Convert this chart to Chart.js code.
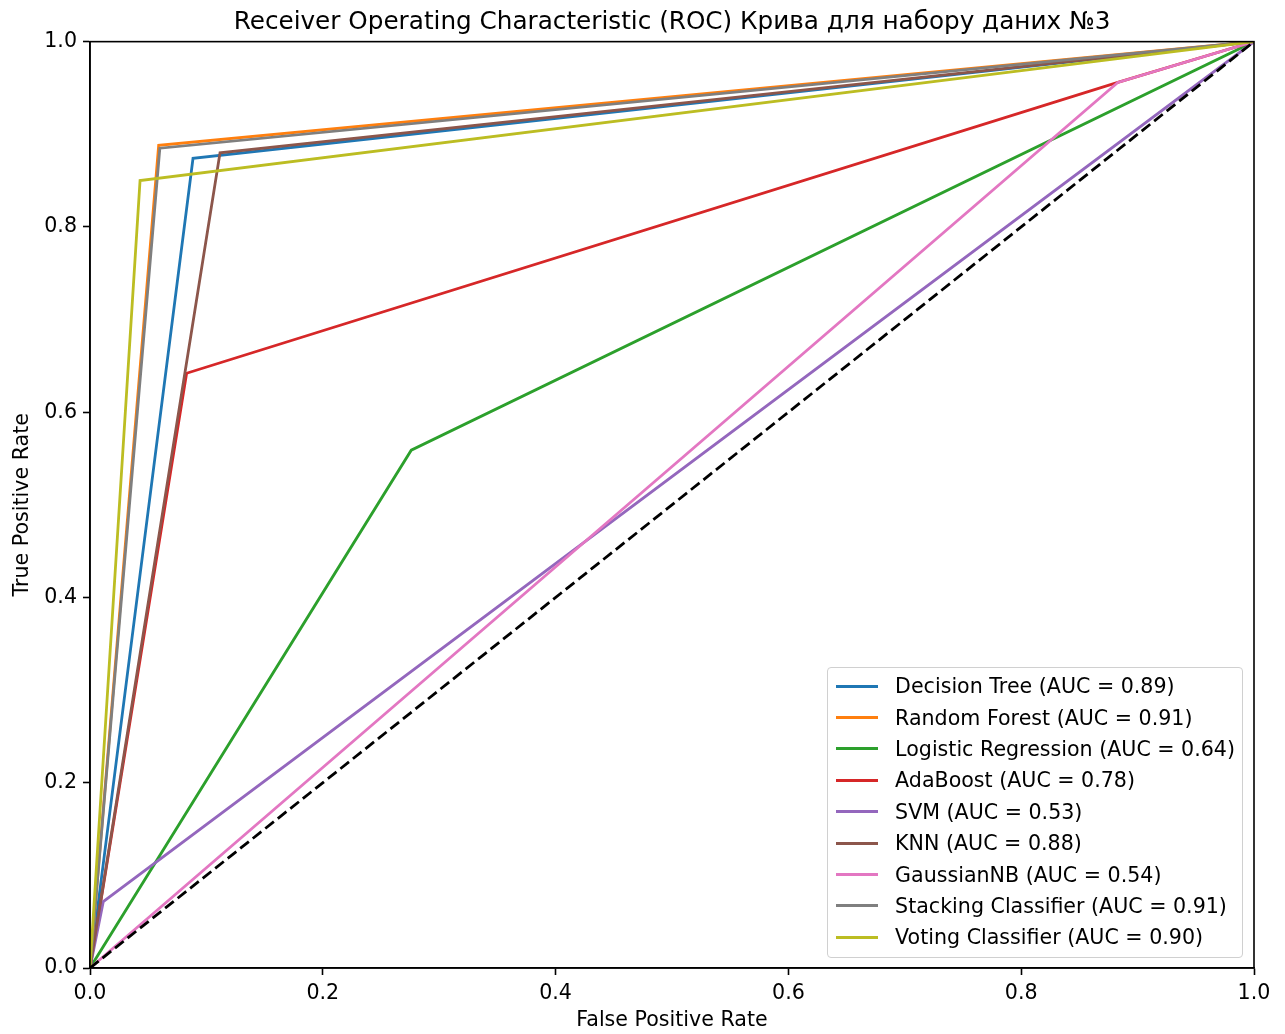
<!DOCTYPE html>
<html>
<head>
<meta charset="utf-8">
<script src="https://cdn.jsdelivr.net/npm/chart.js@4/dist/chart.umd.min.js"></script>
<style>
    body { margin: 0; background: #fff; }
    #wrap { position: relative; width: 1285px; height: 1034px; }
    #roc-legend {
        position: absolute;
        border: 1px solid #d0d0d0;
        border-radius: 4px;
        background: rgba(255, 255, 255, 0.8);
        padding: 2px 7px 4px 8px;
        font-family: "DejaVu Sans", sans-serif;
        font-size: 20.6px;
        color: #000;
    }
    #roc-legend .row { display: flex; align-items: center; height: 31.4px; white-space: nowrap; }
    #roc-legend .swatch { width: 42px; height: 3px; margin-right: 17px; }
</style>
</head>
<body>
<div id="wrap">
    <canvas id="roc-chart" width="1285" height="1034"></canvas>
    <div id="roc-legend"></div>
</div>
<script>
// ROC curves
const modelNames = ['Decision Tree', 'Random Forest', 'Logistic Regression', 'AdaBoost', 'SVM',
    'KNN', 'GaussianNB', 'Stacking Classifier', 'Voting Classifier'];
const aucScores = [0.89, 0.91, 0.64, 0.78, 0.53, 0.88, 0.54, 0.91, 0.90];
const modelColors = ['#1f77b4', '#ff7f0e', '#2ca02c', '#d62728', '#9467bd',
    '#8c564b', '#e377c2', '#7f7f7f', '#bcbd22'];

const fprDecisionTree = [0, 0.0885, 1];
const tprDecisionTree = [0, 0.874, 1];
const fprRandomForest = [0, 0.059, 1];
const tprRandomForest = [0, 0.888, 1];
const fprLogistic = [0, 0.276, 1];
const tprLogistic = [0, 0.559, 1];
const fprAdaBoost = [0, 0.083, 0.883, 1];
const tprAdaBoost = [0, 0.642, 0.956, 1];
const fprSvm = [0, 0.0114, 1];
const tprSvm = [0, 0.0716, 1];
const fprKnn = [0, 0.1117, 1];
const tprKnn = [0, 0.880, 1];
const fprGaussian = [0, 0.883, 1];
const tprGaussian = [0, 0.956, 1];
const fprStacking = [0, 0.060, 1];
const tprStacking = [0, 0.885, 1];
const fprVoting = [0, 0.043, 1];
const tprVoting = [0, 0.850, 1];

const fprAll = [fprDecisionTree, fprRandomForest, fprLogistic, fprAdaBoost, fprSvm, fprKnn, fprGaussian, fprStacking, fprVoting];
const tprAll = [tprDecisionTree, tprRandomForest, tprLogistic, tprAdaBoost, tprSvm, tprKnn, tprGaussian, tprStacking, tprVoting];

const chanceLine = [0, 1];
const axisTicks = [0, 0.2, 0.4, 0.6, 0.8, 1.0];

const FONT = '"DejaVu Sans", sans-serif';

document.addEventListener("DOMContentLoaded", function() {
    const ctx = document.getElementById('roc-chart').getContext('2d');
    const legendBox = document.getElementById('roc-legend');

    const datasets = modelNames.map(function(name, i) {
        return {
            label: name + ' (AUC = ' + aucScores[i].toFixed(2) + ')',
            data: fprAll[i].map((x, k) => ({ x: x, y: tprAll[i][k] })),
            borderColor: modelColors[i],
            backgroundColor: modelColors[i],
            borderWidth: 2.8,
            pointRadius: 0,
            showLine: true,
            order: 20 - i // later series drawn on top, like matplotlib
        };
    });
    datasets.push({
        label: 'chance',
        data: chanceLine.map(v => ({ x: v, y: v })),
        borderColor: '#000',
        borderWidth: 2.8,
        borderDash: [11, 5],
        pointRadius: 0,
        showLine: true,
        order: 0
    });

    // box around the plot (top and right spines)
    const frame = {
        id: 'frame',
        afterDatasetsDraw(chart) {
            const a = chart.chartArea, c = chart.ctx;
            c.save();
            c.strokeStyle = '#000';
            c.lineWidth = 1.6;
            c.strokeRect(a.left, a.top, a.right - a.left, a.bottom - a.top);
            c.restore();
        }
    };

    // legend inside the axes, lower right
    const innerLegend = {
        id: 'innerLegend',
        afterUpdate(chart) {
            legendBox.innerHTML = '';
            chart.data.datasets.forEach(function(ds) {
                if (ds.label === 'chance') return;
                const row = document.createElement('div');
                row.className = 'row';
                const sw = document.createElement('span');
                sw.className = 'swatch';
                sw.style.background = ds.borderColor;
                const txt = document.createElement('span');
                txt.textContent = ds.label;
                row.appendChild(sw);
                row.appendChild(txt);
                legendBox.appendChild(row);
            });
            const a = chart.chartArea;
            legendBox.style.right = (chart.width - a.right + 11) + 'px';
            legendBox.style.bottom = (chart.height - a.bottom + 10) + 'px';
        }
    };

    const tickStyle = { color: '#000', font: { family: FONT, size: 20.6 }, padding: 6, callback: v => v.toFixed(1) };
    const gridStyle = { display: true, drawOnChartArea: false, drawTicks: true, tickLength: 7, tickColor: '#000', tickWidth: 1.6 };

    new Chart(ctx, {
        type: 'scatter',
        data: { datasets: datasets },
        options: {
            responsive: false,
            animation: false,
            devicePixelRatio: 1,
            layout: { padding: { top: 0, right: 31, bottom: 0, left: 0 } },
            plugins: {
                legend: { display: false },
                tooltip: { enabled: false },
                title: {
                    display: true,
                    fullSize: false,
                    text: 'Receiver Operating Characteristic (ROC) Крива для набору даних №3',
                    color: '#000',
                    font: { family: FONT, size: 24.7, weight: 'normal' },
                    padding: { top: 8, bottom: 4 }
                }
            },
            scales: {
                x: {
                    type: 'linear',
                    min: 0,
                    max: 1,
                    afterBuildTicks: s => { s.ticks = axisTicks.map(v => ({ value: v })); },
                    afterFit: s => { s.height = 66; },
                    ticks: tickStyle,
                    grid: gridStyle,
                    border: { color: '#000', width: 1.6 },
                    title: { display: true, text: 'False Positive Rate', color: '#000',
                        font: { family: FONT, size: 20.6 }, padding: { top: 0, bottom: 1 } }
                },
                y: {
                    type: 'linear',
                    min: 0,
                    max: 1,
                    afterBuildTicks: s => { s.ticks = axisTicks.map(v => ({ value: v })); },
                    afterFit: s => { s.width = 90; },
                    ticks: tickStyle,
                    grid: gridStyle,
                    border: { color: '#000', width: 1.6 },
                    title: { display: true, text: 'True Positive Rate', color: '#000',
                        font: { family: FONT, size: 20.6 }, padding: { top: 10, bottom: 0 } }
                }
            }
        },
        plugins: [frame, innerLegend]
    });
});
</script>
</body>
</html>
